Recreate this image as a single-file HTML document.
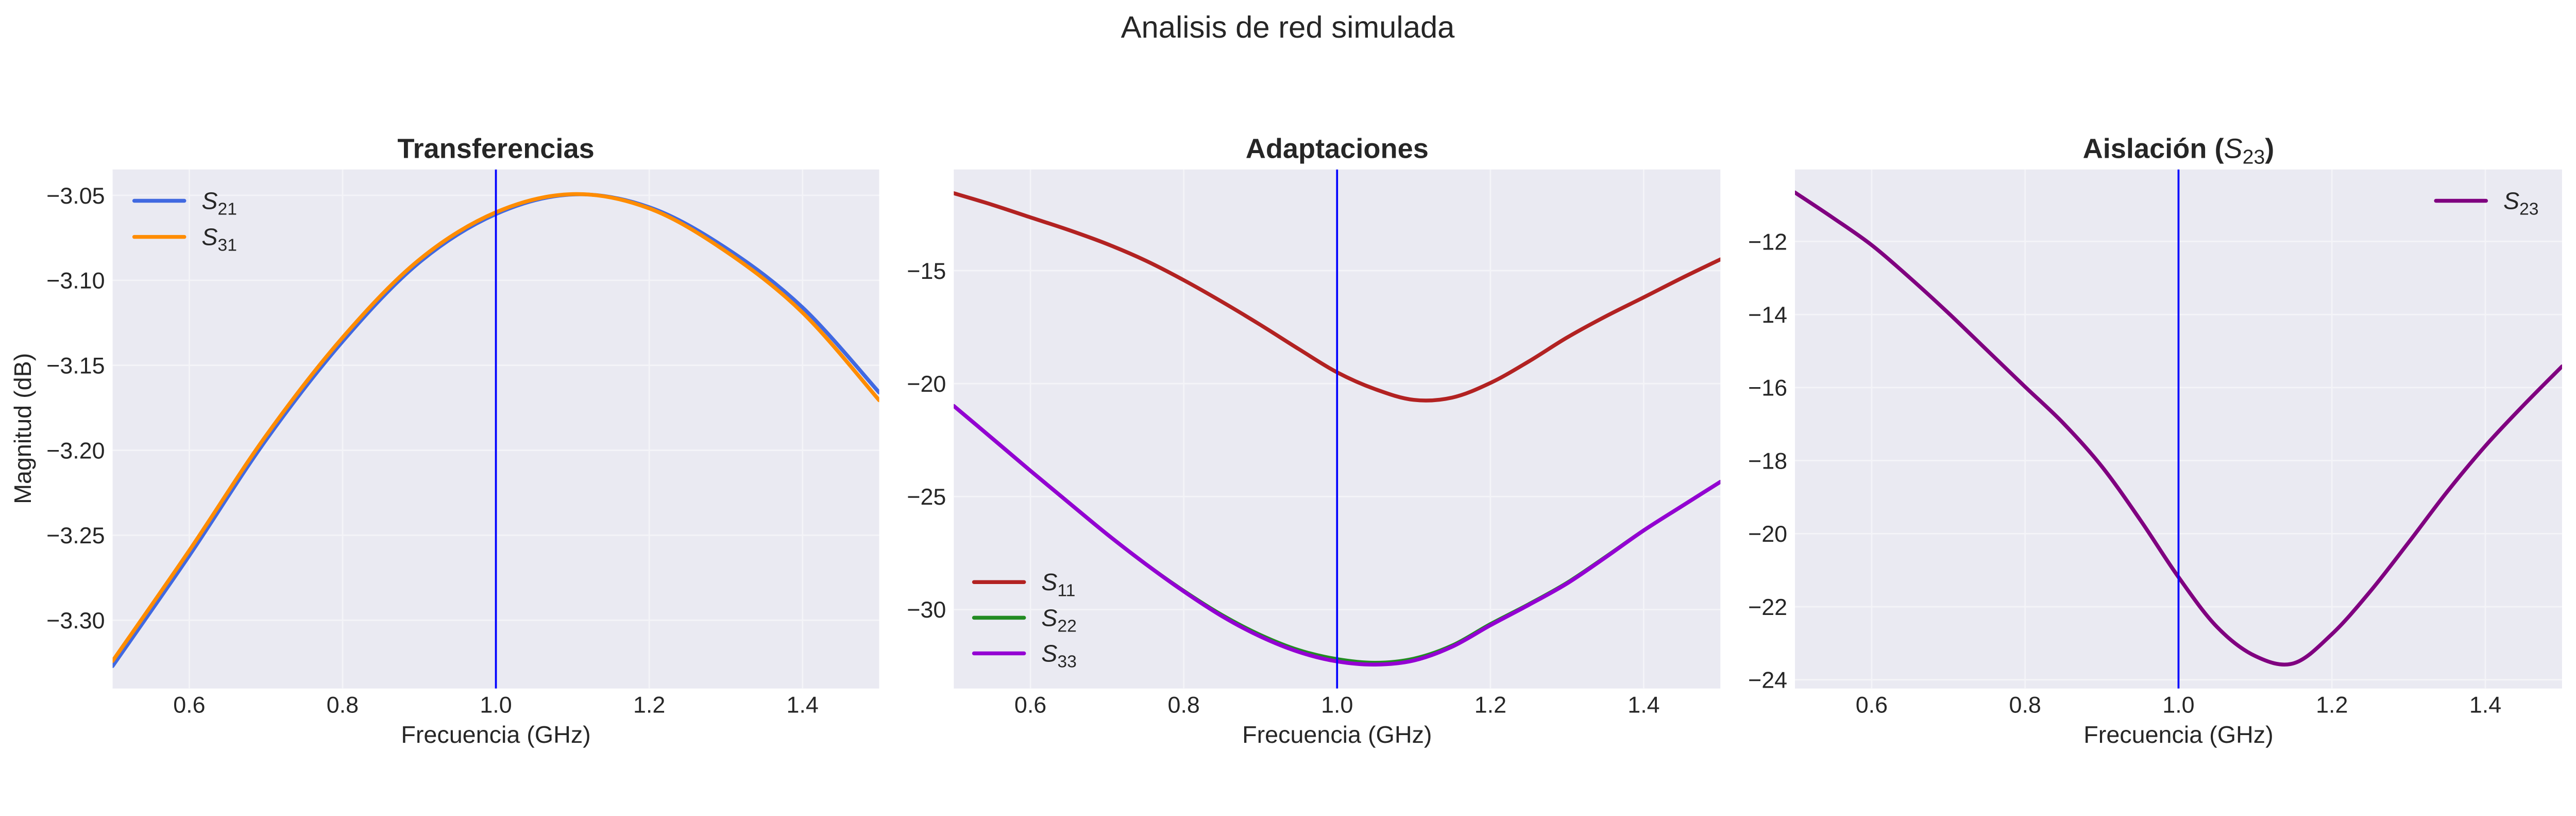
<!DOCTYPE html>
<html><head><meta charset="utf-8"><style>
html,body{margin:0;padding:0;background:#fff;overflow:hidden;}
svg{display:block;width:100vw;height:auto;font-family:"Liberation Sans",sans-serif;}
</style></head><body>
<svg id="fig" viewBox="0 0 5353 1583" xmlns="http://www.w3.org/2000/svg">
<text x="2676" y="78" font-size="64" text-anchor="middle" fill="#262626">Analisis de red simulada</text>
</svg>
<script>
const freq = [0.5,0.6,0.7,0.8,0.9,1.0,1.1,1.2,1.3,1.4,1.5];
const s21 = [-3.327,-3.262,-3.194,-3.136,-3.0895,-3.061,-3.0495,-3.057,-3.081,-3.116,-3.166];
const s31 = [-3.324,-3.259,-3.1915,-3.1337,-3.0879,-3.060,-3.0493,-3.0577,-3.083,-3.119,-3.1706];
const freqFine = [0.5,0.55,0.6,0.65,0.7,0.75,0.8,0.85,0.9,0.95,1.0,1.05,1.1,1.15,1.2,1.25,1.3,1.35,1.4,1.45,1.5];
const s11 = [-11.57,-12.08,-12.64,-13.2,-13.82,-14.55,-15.42,-16.38,-17.4,-18.47,-19.5,-20.25,-20.72,-20.62,-19.97,-19.02,-17.96,-17.03,-16.18,-15.32,-14.5];
const s22 = [-20.99,-22.42,-23.86,-25.27,-26.67,-27.98,-29.18,-30.25,-31.13,-31.8,-32.2,-32.36,-32.18,-31.6,-30.65,-29.77,-28.82,-27.68,-26.5,-25.42,-24.35];
const s33 = [-20.99,-22.42,-23.86,-25.27,-26.67,-27.98,-29.2,-30.3,-31.2,-31.88,-32.3,-32.44,-32.26,-31.65,-30.7,-29.8,-28.85,-27.7,-26.5,-25.42,-24.35];
const freq23 = [0.5,0.55,0.6,0.65,0.7,0.75,0.8,0.85,0.9,0.95,1.0,1.05,1.1,1.15,1.2,1.25,1.3,1.35,1.4,1.45,1.5];
const s23 = [-10.66,-11.36,-12.1,-13.0,-13.96,-14.97,-15.98,-16.98,-18.16,-19.62,-21.19,-22.55,-23.35,-23.55,-22.75,-21.58,-20.24,-18.86,-17.6,-16.48,-15.42];
const xTicks = [0.6,0.8,1.0,1.2,1.4];
const yTicks1 = [-3.05,-3.10,-3.15,-3.20,-3.25,-3.30];
const yTicks2 = [-15,-20,-25,-30];
const yTicks3 = [-12,-14,-16,-18,-20,-22,-24];
const marker = 1.0;

const NS = "http://www.w3.org/2000/svg";
const svg = document.getElementById('fig');
function mk(tag, attrs, parent){const e=document.createElementNS(NS,tag);for(const k in attrs)e.setAttribute(k,attrs[k]);(parent||svg).appendChild(e);return e;}
function smooth(pts){let d=`M${pts[0][0]},${pts[0][1]}`;for(let i=0;i<pts.length-1;i++){const p0=pts[i-1]||pts[i],p1=pts[i],p2=pts[i+1],p3=pts[i+2]||p2;const c1=[p1[0]+(p2[0]-p0[0])/6,p1[1]+(p2[1]-p0[1])/6],c2=[p2[0]-(p3[0]-p1[0])/6,p2[1]-(p3[1]-p1[1])/6];d+=` C${c1[0]},${c1[1]} ${c2[0]},${c2[1]} ${p2[0]},${p2[1]}`;}return d;}

function panel(cfg){
  const {L,R,T,B,ymin,ymax,yTicks,fmt,title,id,series,legend}=cfg;
  const sx=v=>L+(v-0.5)/(1.0)*(R-L);
  const sy=v=>B-(v-ymin)/(ymax-ymin)*(B-T);
  const g=mk('g',{});
  
  
  const bg=mk('rect',{x:L,y:T,width:R-L,height:B-T,fill:'#eaeaf2'},g);
  
  
  const clipId='clip-'+id;
  const cp=mk('clipPath',{id:clipId},g);mk('rect',{x:L,y:T,width:R-L,height:B-T},cp);
  xTicks.forEach(t=>{
    const ln=mk('line',{x1:sx(t),x2:sx(t),y1:T,y2:B,stroke:'#f4f4f8','stroke-width':3},g);
    
    
    const tx=mk('text',{x:sx(t),y:1480,'font-size':48,'text-anchor':'middle',fill:'#262626'},g);
    tx.textContent=t.toFixed(1);
    
    
  });
  yTicks.forEach(t=>{
    const ln=mk('line',{x1:L,x2:R,y1:sy(t),y2:sy(t),stroke:'#f4f4f8','stroke-width':3},g);
    
    
    const tx=mk('text',{x:L-16,y:sy(t)+17,'font-size':48,'text-anchor':'end',fill:'#262626'},g);
    tx.textContent=fmt(t).replace('-','\u2212');
    
    
  });
  const cg=mk('g',{'clip-path':`url(#${clipId})`},g);
  series.forEach(s=>{
    const pts=s.x.map((v,i)=>[sx(v),sy(s.y[i])]);
    const p=mk('path',{d:smooth(pts),fill:'none',stroke:s.color,'stroke-width':8,'stroke-linecap':'round','stroke-linejoin':'round'},cg);
    
    
  });
  const vl=mk('line',{x1:sx(marker),x2:sx(marker),y1:T,y2:B,stroke:'#0000ff','stroke-width':4},cg);
  
  
  const tt=mk('text',{x:(L+R)/2,y:328,'font-size':58,'font-weight':'bold','text-anchor':'middle',fill:'#262626'},g);
  tt.innerHTML=title;
  
  
  const xl=mk('text',{x:(L+R)/2,y:1543,'font-size':50,'text-anchor':'middle',fill:'#262626'},g);
  xl.textContent='Frecuencia (GHz)';
  
  
  legend.items.forEach((it,i)=>{
    const y=legend.y+i*legend.dy;
    const e=mk('g',{},g);
    
    
    mk('line',{x1:legend.x,x2:legend.x+104,y1:y,y2:y,stroke:it.color,'stroke-width':8,'stroke-linecap':'round'},e);
    const t=mk('text',{x:legend.x+140,y:y+17,'font-size':50,fill:'#262626'},e);
    t.innerHTML=`<tspan font-style="italic">S</tspan><tspan font-size="36" dy="12">${it.sub}</tspan>`;
  });
}

panel({L:234,R:1827,T:352,B:1430,ymin:-3.3402,ymax:-3.0348,yTicks:yTicks1,fmt:t=>t.toFixed(2),title:'Transferencias',id:'transferencias',
  series:[{name:'s21',x:freq,y:s21,color:'#4169e1'},{name:'s31',x:freq,y:s31,color:'#ff8c00'}],
  legend:{x:279,y:417,dy:75,items:[{color:'#4169e1',sub:'21'},{color:'#ff8c00',sub:'31'}]}});
panel({L:1982,R:3575,T:352,B:1430,ymin:-33.5,ymax:-10.52,yTicks:yTicks2,fmt:t=>String(t),title:'Adaptaciones',id:'adaptaciones',
  series:[{name:'s11',x:freqFine,y:s11,color:'#b22222'},{name:'s22',x:freqFine,y:s22,color:'#228b22'},{name:'s33',x:freqFine,y:s33,color:'#9400d3'}],
  legend:{x:2024,y:1209,dy:74,items:[{color:'#b22222',sub:'11'},{color:'#228b22',sub:'22'},{color:'#9400d3',sub:'33'}]}});
panel({L:3730,R:5324,T:352,B:1430,ymin:-24.24,ymax:-10.03,yTicks:yTicks3,fmt:t=>String(t),title:'Aislación (<tspan font-weight="normal" font-style="italic">S</tspan><tspan font-weight="normal" font-size="42" dy="12">23</tspan><tspan dy="-12">)</tspan>',id:'aislacion',
  series:[{name:'s23',x:freq23,y:s23,color:'#800080'}],
  legend:{x:5062,y:417,dy:75,items:[{color:'#800080',sub:'23'}]}});

const yl=mk('text',{x:0,y:0,'font-size':50,'text-anchor':'middle',fill:'#262626',transform:'translate(64,890) rotate(-90)'});
yl.textContent='Magnitud (dB)';


</script>
</body></html>
